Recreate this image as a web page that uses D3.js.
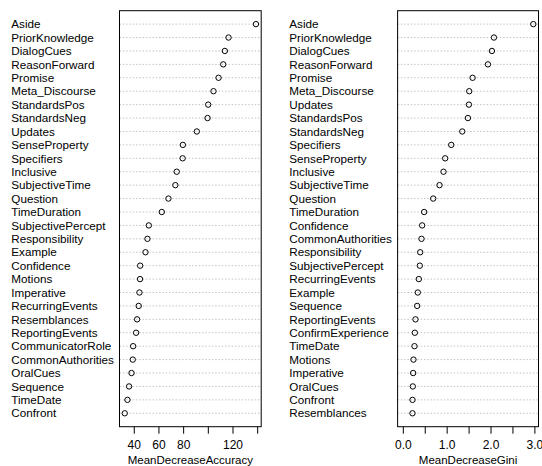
<!DOCTYPE html>
<html>
<head>
<meta charset="utf-8">
<script src="https://cdn.jsdelivr.net/npm/d3@7"></script>
<style>
  html, body { margin: 0; padding: 0; background: #fff; }
  svg { display: block; }
  text { font-family: "Liberation Sans", Arial, Helvetica, sans-serif; fill: #000; }
</style>
</head>
<body>
<svg id="chart" width="542" height="466"></svg>
<script>
// ---- Data (top to bottom) ----
const accLabels = ["Aside","PriorKnowledge","DialogCues","ReasonForward","Promise","Meta_Discourse",
  "StandardsPos","StandardsNeg","Updates","SenseProperty","Specifiers","Inclusive","SubjectiveTime",
  "Question","TimeDuration","SubjectivePercept","Responsibility","Example","Confidence","Motions",
  "Imperative","RecurringEvents","Resemblances","ReportingEvents","CommunicatorRole",
  "CommonAuthorities","OralCues","Sequence","TimeDate","Confront"];
const accValues = [139.0,116.8,113.8,112.5,108.7,104.6,100.3,99.8,91.1,79.8,79.6,74.8,73.7,
  68.1,62.7,52.2,51.1,49.5,45.2,45.1,44.6,44.0,42.7,41.9,39.5,39.2,38.2,36.2,34.9,32.7];

const giniLabels = ["Aside","PriorKnowledge","DialogCues","ReasonForward","Promise","Meta_Discourse",
  "Updates","StandardsPos","StandardsNeg","Specifiers","SenseProperty","Inclusive","SubjectiveTime",
  "Question","TimeDuration","Confidence","CommonAuthorities","Responsibility","SubjectivePercept",
  "RecurringEvents","Example","Sequence","ReportingEvents","ConfirmExperience","TimeDate","Motions",
  "Imperative","OralCues","Confront","Resemblances"];
const giniValues = [2.975,2.078,2.032,1.941,1.591,1.514,1.507,1.484,1.355,1.104,0.966,0.928,0.837,
  0.693,0.487,0.441,0.426,0.396,0.388,0.365,0.342,0.327,0.289,0.274,0.266,0.243,0.236,0.228,0.221,0.220];

const accTicks = [40,60,80,100,120,140];
const accTickLabels = ["40","60","80","","120",""];
const giniTicks = [0,0.5,1,1.5,2,2.5,3];
const giniTickLabels = ["0.0","","1.0","","2.0","","3.0"];

const accTitle = "MeanDecreaseAccuracy";
const giniTitle = "MeanDecreaseGini";

// ---- Layout ----
const svg = d3.select("#chart");
const plotTop = 10.7, plotBottom = 426.7;

function panel(opts) {
  const { labels, values, x0, x1, labelX, xmin, ticks, tickLabels, title } = opts;
  const n = labels.length;
  const xmax = d3.max(values);
  const pad = (xmax - xmin) * 0.04;
  const x = d3.scaleLinear().domain([xmin - pad, xmax + pad]).range([x0, x1]);
  const y = d3.scaleLinear().domain([0, n + 1]).range([plotBottom, plotTop]);
  const rowY = i => y(n - i);

  const g = svg.append("g");

  // dotted guide lines
  g.selectAll("line.guide").data(values).enter().append("line")
    .attr("class", "guide")
    .attr("x1", x0).attr("x2", x1)
    .attr("y1", (d, i) => rowY(i)).attr("y2", (d, i) => rowY(i))
    .attr("stroke", "#c4c4c4").attr("stroke-width", 1)
    .attr("stroke-dasharray", "1.5,1.8");

  // points
  g.selectAll("circle.pt").data(values).enter().append("circle")
    .attr("class", "pt")
    .attr("cx", d => x(d)).attr("cy", (d, i) => rowY(i))
    .attr("r", 2.7)
    .attr("fill", "none").attr("stroke", "#000").attr("stroke-width", 1);

  // labels
  g.selectAll("text.lab").data(labels).enter().append("text")
    .attr("class", "lab")
    .attr("x", labelX).attr("y", (d, i) => rowY(i))
    .attr("dy", "0.36em")
    .style("font-size", "11.7px")
    .text(d => d);

  // frame
  g.append("rect")
    .attr("x", x0).attr("y", plotTop)
    .attr("width", x1 - x0).attr("height", plotBottom - plotTop)
    .attr("fill", "none").attr("stroke", "#000").attr("stroke-width", 1);

  // axis
  const axis = d3.axisBottom(x)
    .tickValues(ticks)
    .tickSize(7)
    .tickSizeOuter(0)
    .tickPadding(6.5)
    .tickFormat((d, i) => tickLabels[i]);
  const ag = g.append("g").attr("transform", `translate(0,${plotBottom})`).call(axis);
  ag.select(".domain").remove();
  ag.selectAll(".tick line").attr("stroke", "#000");
  ag.selectAll(".tick text")
    .style("font-size", "12px")
    .style("font-family", "'Liberation Sans', Arial, Helvetica, sans-serif")
    .attr("fill", "#000");

  // title
  g.append("text")
    .attr("x", (x0 + x1) / 2).attr("y", 463.5)
    .attr("text-anchor", "middle")
    .style("font-size", "11.5px")
    .text(title);
}

panel({ labels: accLabels, values: accValues, x0: 119.5, x1: 261.2, labelX: 11.3,
  xmin: d3.min(accValues), ticks: accTicks, tickLabels: accTickLabels, title: accTitle });
panel({ labels: giniLabels, values: giniValues, x0: 397.6, x1: 538.5, labelX: 289.3,
  xmin: 0, ticks: giniTicks, tickLabels: giniTickLabels, title: giniTitle });
</script>
</body>
</html>
